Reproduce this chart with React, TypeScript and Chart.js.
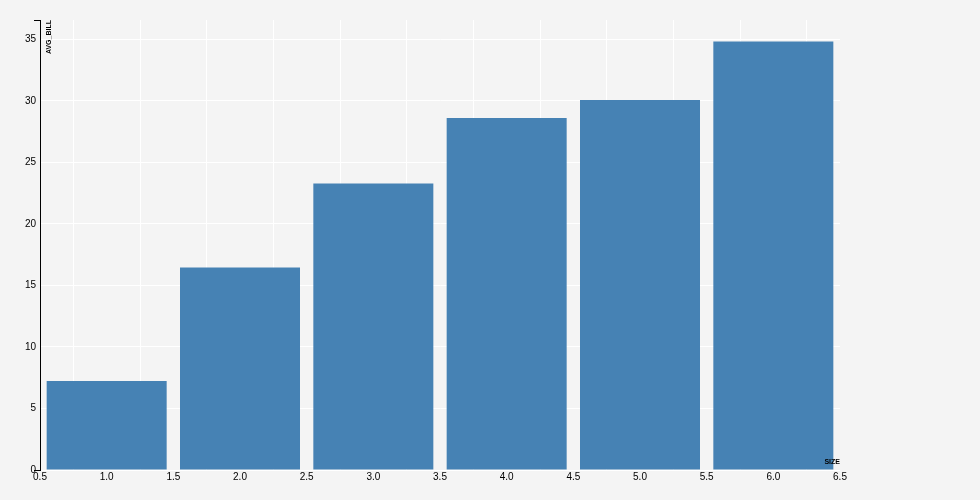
import React, { useEffect, useRef } from "react";
import { Chart, registerables } from "chart.js";

Chart.register(...registerables);

const sizes = [1, 2, 3, 4, 5, 6];
const avgBill = [7.24, 16.45, 23.28, 28.61, 30.07, 34.83];
const yTicks = [0, 5, 10, 15, 20, 25, 30, 35];
const xTicks = [0.5, 1, 1.5, 2, 2.5, 3, 3.5, 4, 4.5, 5, 5.5, 6, 6.5];
const xTitle = "SIZE";
const yTitle = "AVG_BILL";

const FONT = "'Liberation Sans', Arial, Helvetica, sans-serif";

const axisDecor = {
  id: "axisDecor",
  afterDraw(chart: any) {
    const { ctx, chartArea } = chart;
    const { left, right, top, bottom } = chartArea;
    ctx.save();
    ctx.strokeStyle = "#000";
    ctx.lineWidth = 1;
    ctx.beginPath();
    ctx.moveTo(left - 6, Math.round(top) + 0.5);
    ctx.lineTo(left, Math.round(top) + 0.5);
    ctx.moveTo(left - 6, Math.round(bottom) + 0.5);
    ctx.lineTo(left, Math.round(bottom) + 0.5);
    ctx.stroke();
    ctx.fillStyle = "#000";
    ctx.font = `bold 7px ${FONT}`;
    ctx.textAlign = "right";
    ctx.textBaseline = "middle";
    ctx.fillText(xTitle, right, bottom - 8);
    ctx.translate(left + 9, top);
    ctx.rotate(-Math.PI / 2);
    ctx.textAlign = "right";
    ctx.textBaseline = "middle";
    ctx.fillText(yTitle, 0, 0);
    ctx.restore();
  },
};

export default function App() {
  const ref = useRef<HTMLCanvasElement>(null);
  useEffect(() => {
    document.body.style.margin = "0";
    document.body.style.background = "#f4f4f4";
    const chart = new Chart(ref.current!, {
      type: "bar",
      data: {
        datasets: [
          {
            data: sizes.map((s, i) => ({ x: s, y: avgBill[i] })),
            backgroundColor: "#4682b4",
            borderWidth: 0,
            barPercentage: 1.8,
            categoryPercentage: 1.0,
          },
        ],
      },
      plugins: [axisDecor],
      options: {
        animation: false,
        responsive: false,
        devicePixelRatio: 1,
        layout: { padding: { top: 20, right: 140, left: 0, bottom: 0 } },
        plugins: { legend: { display: false }, tooltip: { enabled: false } },
        scales: {
          x: {
            type: "linear",
            min: 0.5,
            max: 6.5,
            offset: false,
            afterBuildTicks: (s: any) => {
              s.ticks = xTicks.map((v) => ({ value: v }));
            },
            afterFit: (s: any) => {
              s.height = 30;
            },
            ticks: {
              color: "#000",
              font: { family: FONT, size: 10 },
              padding: 1,
              maxRotation: 0,
              autoSkip: false,
              callback: (v: any) => Number(v).toFixed(1),
            },
            grid: { color: "#ffffff", lineWidth: 1, drawTicks: false },
            border: { display: false },
          },
          y: {
            min: 0,
            max: 36.57,
            afterBuildTicks: (s: any) => {
              s.ticks = yTicks.map((v) => ({ value: v }));
            },
            afterFit: (s: any) => {
              s.width = 40;
            },
            ticks: {
              color: "#000",
              font: { family: FONT, size: 10 },
              padding: 4,
              callback: (v: any) => String(v),
            },
            grid: { color: "#ffffff", lineWidth: 1, drawTicks: false },
            border: { display: true, color: "#000", width: 1 },
          },
        },
      },
    });
    return () => chart.destroy();
  }, []);
  return (
    <div style={{ width: 980, height: 500, background: "#f4f4f4" }}>
      <canvas ref={ref} width={980} height={500} />
    </div>
  );
}
